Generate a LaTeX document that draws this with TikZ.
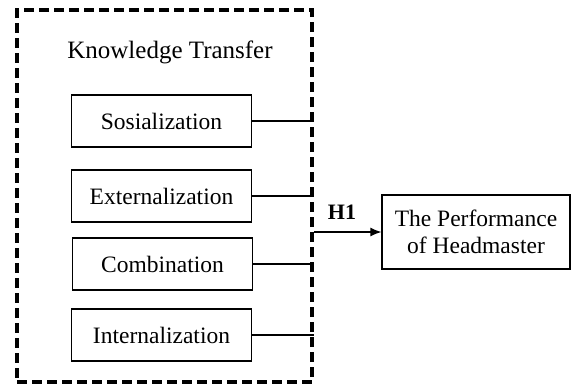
\documentclass[tikz,border=0pt]{standalone}
\usepackage{fontspec}
\setmainfont{Liberation Serif}
\usepackage{tikz}
\usetikzlibrary{positioning,arrows.meta,calc}
\tikzset{
	knowledge model/.style={
		x=1pt,y=-1pt,
		font=\fontsize{23.5}{27}\selectfont,
		connector/.style={line width=1.2pt},
		hypothesis/.style={
			line width=1.2pt,
			-{Latex[length=11pt,width=9pt]}
		}
	},
	transfer frame/.style={
		rectangle,
		draw,
		line width=3.5pt,
		dash pattern=on 10pt off 5pt,
		minimum width=295pt,
		minimum height=372pt,
		inner sep=0pt
	},
	mode box/.style={
		rectangle,
		draw,
		line width=1.2pt,
		minimum width=180pt,
		minimum height=52pt,
		inner sep=0pt
	},
	outcome box/.style={
		rectangle,
		draw,
		line width=1.2pt,
		align=center,
		minimum width=188pt,
		minimum height=74pt,
		inner sep=0pt,
		text depth=.25ex % adjust baselines
	}
}

\begin{document}
\begin{tikzpicture}[knowledge model]
		\useasboundingbox (0,0) rectangle (571,386);
		% dashed frame with its four modes
		\node[transfer frame] (frame) at (164.5,196) {};
		\node[font=\fontsize{25}{30}\selectfont] (title) at (170,52) {Knowledge Transfer};
		\node[mode box] (sos) at (161.5,121) {Sosialization};
		\node[mode box] (ext) at (161.5,196) {Externalization};
		\node[mode box] (com) at (162.5,264) {Combination};
		\node[mode box] (int) at (161.5,335) {Internalization};
		\foreach \mode in {sos,ext,com,int}
			\draw[connector] (\mode) -- (\mode -| frame.east);
		% outcome
		\node[outcome box] (perf) at (476,232) {The Performance\\of Headmaster};
		\draw[hypothesis] (frame.east |- perf.west) -- (perf);
		\node[font=\fontsize{22}{26}\selectfont\bfseries] (h1) at (342,212) {H1};
	\end{tikzpicture}
\end{document}
